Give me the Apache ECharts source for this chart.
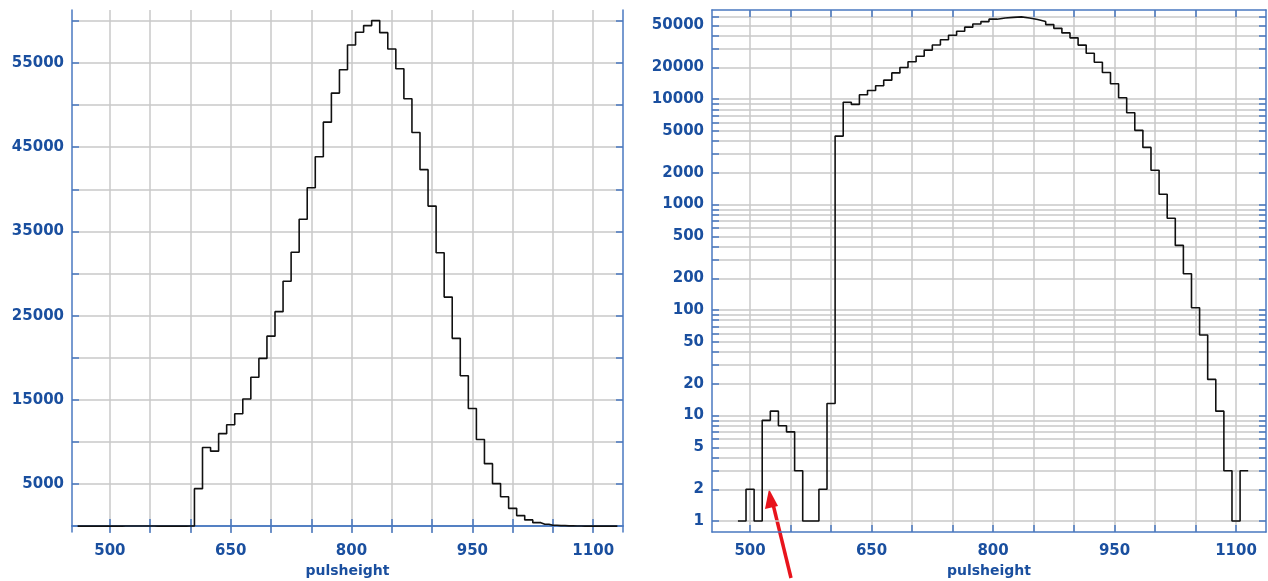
<!DOCTYPE html>
<html>
<head>
<meta charset="utf-8">
<script src="https://cdn.jsdelivr.net/npm/echarts@6/dist/echarts.min.js"></script>
<style>
  html, body { margin: 0; padding: 0; background: #fff; }
  #chart { width: 1268px; height: 581px; }
</style>
</head>
<body>
<div id="chart"></div>
<script>
// histogram bins, 10 wide, centres
var binWidth = 10
var binCenters = [
  460, 470, 480, 490, 500, 510, 520, 530, 540, 550,
  560, 570, 580, 590, 600, 610, 620, 630, 640, 650,
  660, 670, 680, 690, 700, 710, 720, 730, 740, 750,
  760, 770, 780, 790, 800, 810, 820, 830, 840, 850,
  860, 870, 880, 890, 900, 910, 920, 930, 940, 950,
  960, 970, 980, 990, 1000, 1010, 1020, 1030, 1040, 1050,
  1060, 1070, 1080, 1090, 1100, 1110, 1120, 1130
]
var counts = [
  0, 0, 0, 1, 2, 1, 9, 11, 8, 7,
  3, 1, 1, 2, 13, 4450, 9330, 8900, 10980, 12030,
  13340, 15100, 17680, 19920, 22560, 25470, 29090, 32520, 36450, 40180,
  43870, 47980, 51430, 54210, 57140, 58650, 59450, 60040, 58610, 56670,
  54320, 50750, 46750, 42340, 38010, 32460, 27200, 22300, 17850, 13960,
  10290, 7420, 5050, 3480, 2110, 1250, 740, 410, 221, 105,
  58, 22, 11, 3, 1, 3, 0, 0
]

// axis ticks / labels
var xTicks = [500, 550, 600, 650, 700, 750, 800, 850, 900, 950, 1000, 1050, 1100]
var xLabels = [500, 650, 800, 950, 1100]
var linTicks = [5000, 10000, 15000, 20000, 25000, 30000, 35000, 40000, 45000, 50000, 55000, 60000]
var linLabels = [5000, 15000, 25000, 35000, 45000, 55000]
var logLabels = [1, 2, 5, 10, 20, 50, 100, 200, 500, 1000, 2000, 5000, 10000, 20000, 50000]
var logTicks = []
;[1, 10, 100, 1000, 10000].forEach(function (d) {
  for (var m = 1; m <= 9; m++) {
    if (d * m <= 60000) logTicks.push(d * m)
  }
})

var axisBlue = '#4a78c0'
var labelBlue = '#1a4f9f'
var gridGrey = '#c8c8c8'

// linear: step through bin centres
var linData = binCenters.map(function (c, i) { return [c, counts[i]] })
// log: bin edges of the non-empty bins
var logData = []
var lastIdx = -1
binCenters.forEach(function (c, i) {
  if (counts[i] > 0) {
    logData.push([c - binWidth / 2, counts[i]])
    lastIdx = i
  }
})
logData.push([binCenters[lastIdx] + binWidth / 2, counts[lastIdx]])

function plain (v) { return String(v) }

function xAxisPair (grid) {
  return [
    {
      type: 'value', gridIndex: grid, min: 453, max: 1137, position: 'bottom',
      name: 'pulsheight', nameLocation: 'middle', nameGap: 32,
      nameTextStyle: { color: labelBlue, fontWeight: 'bold', fontSize: 14, fontFamily: 'DejaVu Sans' },
      axisLine: { show: true, lineStyle: { color: axisBlue, width: 1.5 } },
      axisTick: { show: true, inside: true, length: 7, customValues: xTicks, lineStyle: { color: axisBlue, width: 1.5 } },
      axisLabel: { customValues: xLabels, formatter: plain, color: labelBlue, fontWeight: 'bold', fontSize: 15, fontFamily: 'DejaVu Sans', margin: 12 },
      splitLine: { show: true, lineStyle: { color: gridGrey, width: 1.5 } }
    },
    {
      type: 'value', gridIndex: grid, min: 453, max: 1137, position: 'top',
      axisLine: { show: true, lineStyle: { color: axisBlue, width: 1.5 } },
      axisTick: { show: true, inside: true, length: 7, customValues: xTicks, lineStyle: { color: axisBlue, width: 1.5 } },
      axisLabel: { show: false },
      splitLine: { show: false }
    }
  ]
}

function yAxisPair (grid, type, min, max, ticks, labels) {
  var base = {
    type: type, gridIndex: grid, min: min, max: max,
    axisLine: { show: true, lineStyle: { color: axisBlue, width: 1.5 } },
    axisTick: { show: true, inside: true, length: 7, customValues: ticks, lineStyle: { color: axisBlue, width: 1.5 } }
  }
  var left = Object.assign({}, base, {
    position: 'left',
    axisLabel: { customValues: labels, formatter: plain, color: labelBlue, fontWeight: 'bold', fontSize: 15, fontFamily: 'DejaVu Sans', margin: 8 },
    splitLine: { show: true, lineStyle: { color: gridGrey, width: 1.5 } }
  })
  var right = Object.assign({}, base, {
    position: 'right',
    axisLabel: { show: false },
    splitLine: { show: false }
  })
  return [left, right]
}

var chart = echarts.init(document.getElementById('chart'))
chart.setOption({
  animation: false,
  backgroundColor: '#fff',
  grid: [
    { left: 72, top: 10, width: 551, height: 522, containLabel: false, outerBoundsMode: 'none' },
    { left: 712, top: 10, width: 554, height: 522, containLabel: false, outerBoundsMode: 'none' }
  ],
  xAxis: xAxisPair(0).concat(xAxisPair(1)),
  yAxis: yAxisPair(0, 'value', -700, 61300, linTicks, linLabels)
    .concat(yAxisPair(1, 'log', 0.787, 69800, logTicks, logLabels)),
  series: [
    {
      type: 'line', xAxisIndex: 0, yAxisIndex: 0, step: 'middle',
      data: linData, showSymbol: false, silent: true,
      lineStyle: { color: '#111', width: 1.6 }
    },
    {
      type: 'line', xAxisIndex: 2, yAxisIndex: 2, step: 'end',
      data: logData, showSymbol: false, silent: true,
      lineStyle: { color: '#111', width: 1.6 }
    }
  ],
  graphic: [
    {
      type: 'line', silent: true,
      shape: { x1: 791, y1: 578, x2: 772, y2: 500 },
      style: { stroke: '#e8141c', lineWidth: 3.5 }
    },
    {
      type: 'polygon', silent: true,
      shape: { points: [[769, 489], [778, 506], [765, 509]] },
      style: { fill: '#e8141c' }
    }
  ]
})
</script>
</body>
</html>
